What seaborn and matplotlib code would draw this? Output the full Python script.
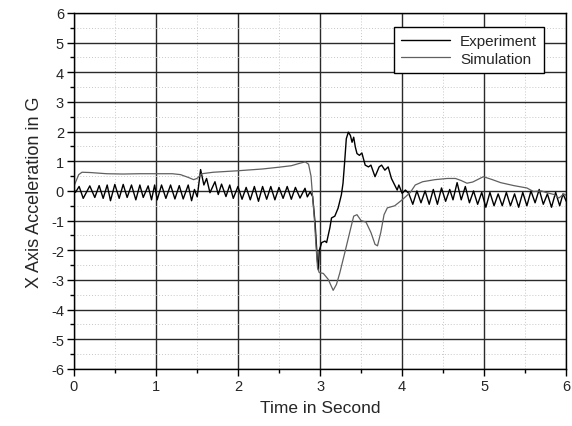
import matplotlib
matplotlib.use("Agg")
import matplotlib.pyplot as plt
import seaborn as sns
import pandas as pd
from matplotlib.ticker import MultipleLocator

# ---- data ----
exp_t = [0.00, 0.02, 0.065, 0.115, 0.195, 0.256, 0.309, 0.358, 0.407, 0.447,
         0.50, 0.553, 0.602, 0.65, 0.703, 0.756, 0.805, 0.846, 0.906, 0.947,
         0.985, 1.016, 1.069, 1.122, 1.179, 1.232, 1.285, 1.333, 1.394, 1.435,
         1.47, 1.504, 1.545, 1.585, 1.618, 1.659, 1.72, 1.76, 1.80, 1.854,
         1.90, 1.943, 2.00, 2.05, 2.10, 2.15, 2.20, 2.25, 2.30, 2.35,
         2.40, 2.45, 2.50, 2.55, 2.60, 2.65, 2.70, 2.756, 2.817, 2.845,
         2.88, 2.91, 2.94, 2.967, 2.98, 2.99, 3.02, 3.06, 3.08, 3.12,
         3.14, 3.18, 3.22, 3.26, 3.28, 3.30, 3.32, 3.345, 3.37, 3.39,
         3.41, 3.43, 3.45, 3.48, 3.51, 3.55, 3.59, 3.62, 3.67, 3.72,
         3.75, 3.79, 3.83, 3.87, 3.91, 3.94, 3.96, 4.00, 4.04, 4.08,
         4.13, 4.18, 4.23, 4.28, 4.33, 4.38, 4.43, 4.48, 4.53, 4.58,
         4.62, 4.67, 4.72, 4.77, 4.82, 4.87, 4.92, 4.97, 5.02, 5.07,
         5.12, 5.17, 5.22, 5.27, 5.32, 5.37, 5.42, 5.47, 5.52, 5.57,
         5.62, 5.67, 5.72, 5.77, 5.82, 5.87, 5.92, 5.96, 6.00]
exp_v = [0.08, -0.05, 0.15, -0.25, 0.17, -0.22, 0.18, -0.25, 0.20, -0.33,
         0.22, -0.25, 0.22, -0.22, 0.20, -0.30, 0.20, -0.22, 0.17, -0.30,
         0.20, -0.30, 0.20, -0.25, 0.20, -0.27, 0.18, -0.27, 0.20, -0.33,
         0.05, -0.20, 0.72, 0.20, 0.42, -0.06, 0.31, -0.12, 0.23, -0.19,
         0.20, -0.25, 0.15, -0.28, 0.12, -0.30, 0.15, -0.35, 0.15, -0.28,
         0.15, -0.30, 0.12, -0.25, 0.15, -0.28, 0.12, -0.24, 0.09, -0.20,
         -0.03, -0.19, -1.10, -2.32, -2.65, -2.02, -1.74, -1.69, -1.74, -1.24,
         -0.91, -0.85, -0.58, -0.13, 0.26, 0.98, 1.76, 1.98, 1.87, 1.64,
         1.81, 1.48, 1.26, 1.20, 1.28, 0.87, 0.81, 0.87, 0.48, 0.81,
         0.87, 0.70, 0.81, 0.42, 0.20, 0.03, 0.20, -0.08, 0.03, -0.08,
         -0.45, 0.00, -0.40, 0.00, -0.45, 0.05, -0.45, 0.10, -0.35, 0.05,
         -0.30, 0.28, -0.30, 0.15, -0.40, 0.00, -0.45, -0.05, -0.55, -0.05,
         -0.50, -0.10, -0.50, -0.05, -0.50, -0.10, -0.55, -0.05, -0.50, 0.00,
         -0.40, 0.05, -0.45, -0.10, -0.55, -0.05, -0.50, -0.10, -0.35]

sim_t = [0.00, 0.03, 0.06, 0.10, 0.20, 0.40, 0.60, 0.80, 1.00, 1.20,
         1.30, 1.40, 1.46, 1.50, 1.56, 1.70, 2.00, 2.30, 2.50, 2.65,
         2.75, 2.82, 2.86, 2.89, 2.91, 2.93, 2.95, 2.97, 2.99, 3.04,
         3.10, 3.16, 3.20, 3.24, 3.30, 3.37, 3.41, 3.45, 3.50, 3.56,
         3.62, 3.67, 3.70, 3.74, 3.78, 3.82, 3.91, 4.00, 4.10, 4.16,
         4.25, 4.40, 4.55, 4.65, 4.72, 4.79, 4.86, 4.99, 5.10, 5.20,
         5.36, 5.52, 5.60, 5.70, 5.75, 5.85, 5.91, 5.97, 6.00]
sim_v = [0.15, 0.35, 0.55, 0.63, 0.62, 0.58, 0.57, 0.58, 0.58, 0.58,
         0.55, 0.45, 0.38, 0.42, 0.58, 0.63, 0.68, 0.74, 0.80, 0.85,
         0.93, 0.98, 0.90, 0.50, -0.20, -0.90, -1.80, -2.60, -2.75, -2.78,
         -2.98, -3.35, -3.15, -2.77, -2.10, -1.30, -0.85, -0.80, -1.00, -1.05,
         -1.40, -1.80, -1.85, -1.40, -0.80, -0.57, -0.50, -0.30, -0.05, 0.20,
         0.31, 0.38, 0.42, 0.42, 0.35, 0.26, 0.30, 0.48, 0.38, 0.28,
         0.18, 0.10, -0.02, 0.00, -0.05, -0.12, -0.24, -0.10, -0.15]

x_ticks = [0, 1, 2, 3, 4, 5, 6]
y_ticks = [-6, -5, -4, -3, -2, -1, 0, 1, 2, 3, 4, 5, 6]

df_exp = pd.DataFrame({"t": exp_t, "v": exp_v})
df_sim = pd.DataFrame({"t": sim_t, "v": sim_v})

sns.set_style("white")
plt.rcParams["font.family"] = ["Liberation Sans", "DejaVu Sans"]
plt.rcParams["axes.unicode_minus"] = False

fig = plt.figure(figsize=(5.72, 4.27), dpi=100)
ax = fig.add_axes([0.129, 0.1335, 0.861, 0.834])

sns.lineplot(data=df_exp, x="t", y="v", ax=ax, color="black", lw=1.0,
             label="Experiment", sort=False, estimator=None)
sns.lineplot(data=df_sim, x="t", y="v", ax=ax, color="#606060", lw=0.9,
             label="Simulation", sort=False, estimator=None)

ax.set_xlim(0, 6)
ax.set_ylim(-6, 6)
ax.set_xticks(x_ticks)
ax.set_yticks(y_ticks)
ax.xaxis.set_minor_locator(MultipleLocator(0.5))
ax.yaxis.set_minor_locator(MultipleLocator(0.5))
ax.grid(which="major", color="#2a2a2a", lw=1.0, ls="-")
ax.grid(which="minor", color="#c8c8c8", lw=0.7, ls=(0, (1, 2)))
ax.set_axisbelow(True)

ax.tick_params(axis="both", which="major", direction="out", length=5,
               width=1, labelsize=10.5, color="black", bottom=True, left=True,
               top=False, right=False, pad=2)
ax.tick_params(axis="both", which="minor", direction="out", length=3,
               width=1, color="black", bottom=True, left=True,
               top=False, right=False)
for s in ax.spines.values():
    s.set_color("black")
    s.set_linewidth(1.0)

ax.set_xlabel("Time in Second", fontsize=12.5, labelpad=5)
ax.set_ylabel("X Axis Acceleration in G", fontsize=13, labelpad=6)

leg = ax.legend(loc="upper right", bbox_to_anchor=(0.955, 0.96),
                fontsize=11, frameon=True, fancybox=False,
                edgecolor="black", framealpha=1, handlelength=3.2,
                borderpad=0.45, labelspacing=0.25, handletextpad=0.7,
                borderaxespad=0)
leg.get_frame().set_linewidth(1.0)

fig.savefig("out.png", dpi=100)
